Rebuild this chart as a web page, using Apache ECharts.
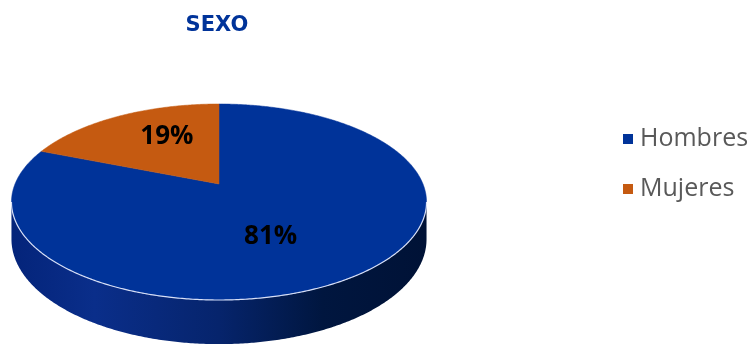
<!DOCTYPE html>
<html>
<head>
<meta charset="utf-8">
<script src="https://cdn.jsdelivr.net/npm/echarts@6/dist/echarts.min.js"></script>
<style>html,body{margin:0;padding:0;background:#fff}#c{width:748px;height:345px}</style>
</head>
<body>
<div id="c"></div>
<script>
const title = 'SEXO';
const categories = ['Hombres', 'Mujeres'];
const values = [81, 19];
const colors = ['#003399', '#C55A11'];

// geometry of the tilted pie (styles)
const G = { cx: 219, cy: 184, A: 204, B: 94.7, k: 0.1837, D0: 36 };
const labelOffsets = [[-24, 1], [11, -4]];

function proj(theta, r) {
  const u = r * Math.sin(theta), v = -r * Math.cos(theta);
  const w = 1 - G.k * v;
  return [G.cx + G.A * u / w, G.cy + G.B * v / w, w];
}
function arcPts(a, b, r, dy) {
  const pts = [];
  const n = Math.max(2, Math.ceil(Math.abs(b - a) / (Math.PI / 360)));
  for (let i = 0; i <= n; i++) {
    const t = a + (b - a) * i / n;
    const p = proj(t, r);
    pts.push([p[0], p[1] + (dy ? G.D0 / p[2] : 0)]);
  }
  return pts;
}

const total = values.reduce((s, v) => s + v, 0);
let acc = 0;
const spans = values.map(v => { const s = [acc / total, (acc + v) / total]; acc += v; return s; });
const thR = Math.acos(-G.k), thL = 2 * Math.PI - thR;

const series = categories.map((name, i) => ({
  type: 'custom',
  name: name,
  coordinateSystem: 'none',
  itemStyle: { color: colors[i] },
  data: [[spans[i][0], spans[i][1], values[i]]],
  renderItem: function (params, api) {
    const a = api.value(0) * 2 * Math.PI, b = api.value(1) * 2 * Math.PI;
    const pct = Math.round(api.value(2) / total * 100) + '%';
    const children = [];
    const sa = Math.max(a, thR), sb = Math.min(b, thL);
    if (sb > sa) {
      const top = arcPts(sa, sb, 1, false);
      const bot = arcPts(sb, sa, 1, true);
      children.push({
        type: 'polygon', z2: 1,
        shape: { points: top.concat(bot) },
        style: {
          fill: new echarts.graphic.LinearGradient(0, 0, 1, 0, [
            { offset: 0, color: '#04247a' },
            { offset: 0.2, color: '#0a2e8a' },
            { offset: 0.5, color: '#06246c' },
            { offset: 0.75, color: '#00163f' },
            { offset: 1, color: '#001236' }
          ])
        }
      });
    }
    const face = [[G.cx, G.cy]].concat(arcPts(a, b, 1, false));
    children.push({
      type: 'polygon', z2: 2,
      shape: { points: face },
      style: { fill: colors[i], stroke: colors[i], lineWidth: 0.5 }
    });
    if (sb > sa) {
      children.push({
        type: 'polyline', z2: 3,
        shape: { points: arcPts(sa, sb, 1, false) },
        style: { stroke: 'rgba(235,240,255,0.9)', lineWidth: 1.2, fill: null }
      });
    }
    const mid = (a + b) / 2;
    const lp = proj(mid, 0.6);
    children.push({
      type: 'text', z2: 4,
      x: lp[0] + labelOffsets[i][0], y: lp[1] + labelOffsets[i][1],
      style: {
        text: pct, fill: '#000', fontSize: 26, fontWeight: 'bold',
        fontFamily: 'Open Sans', align: 'center', verticalAlign: 'middle'
      }
    });
    return { type: 'group', children: children };
  }
}));

const chart = echarts.init(document.getElementById('c'), null, { renderer: 'canvas' });
chart.setOption({
  animation: false,
  graphic: [{
    type: 'text', x: 217, y: 26,
    style: { text: title, fill: '#003399', fontSize: 21, fontWeight: 'bold', fontFamily: 'DejaVu Sans', align: 'center', verticalAlign: 'middle' }
  }],
  legend: {
    data: categories,
    orient: 'vertical',
    left: 618, top: 121,
    itemWidth: 10, itemHeight: 10, itemGap: 24,
    icon: 'rect',
    textStyle: { fontSize: 25, lineHeight: 26, color: '#595959', fontFamily: 'Open Sans', padding: [0, 0, 0, 2] }
  },
  series: series
});
</script>
</body>
</html>
